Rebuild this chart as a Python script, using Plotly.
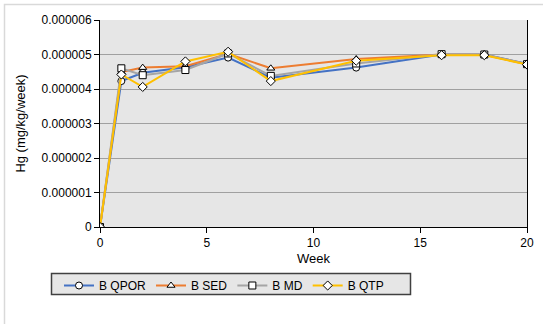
import plotly.graph_objects as go

weeks = [0, 1, 2, 4, 6, 8, 12, 16, 18, 20]
b_qpor = [0, 4.23e-6, 4.47e-6, 4.63e-6, 4.91e-6, 4.33e-6, 4.62e-6, 5.0e-6, 5.0e-6, 4.73e-6]
b_sed = [0, 4.49e-6, 4.62e-6, 4.66e-6, 5.02e-6, 4.60e-6, 4.87e-6, 5.0e-6, 4.99e-6, 4.72e-6]
b_md = [0, 4.60e-6, 4.40e-6, 4.55e-6, 5.03e-6, 4.38e-6, 4.74e-6, 5.01e-6, 5.0e-6, 4.72e-6]
b_qtp = [0, 4.42e-6, 4.06e-6, 4.80e-6, 5.08e-6, 4.23e-6, 4.82e-6, 4.98e-6, 4.98e-6, 4.71e-6]

y_ticks = [0, 1e-6, 2e-6, 3e-6, 4e-6, 5e-6, 6e-6]
y_labels = ["0", "0.000001", "0.000002", "0.000003", "0.000004", "0.000005", "0.000006"]

series = [
    ("B QPOR", b_qpor, "#4472C4", "circle"),
    ("B SED", b_sed, "#ED7D31", "triangle-up"),
    ("B MD", b_md, "#A5A5A5", "square"),
    ("B QTP", b_qtp, "#FFC000", "diamond"),
]

fig = go.Figure()
for name, vals, color, sym in series:
    fig.add_trace(go.Scatter(
        x=weeks, y=vals, name=name, mode="lines+markers",
        line=dict(color=color, width=2),
        marker=dict(symbol=sym, size=7, color="white", line=dict(color="black", width=1)),
    ))

W, H = 543, 324
ml, mr, mt, mb = 100, 16, 20, 97
pw, ph = W - ml - mr, H - mt - mb

def px_x(p):
    return (p - ml) / pw

def px_y(p):
    return (H - mb - p) / ph

fig.update_layout(
    width=W, height=H,
    margin=dict(l=ml, r=mr, t=mt, b=mb, autoexpand=False),
    paper_bgcolor="white",
    plot_bgcolor="#e6e6e6",
    font=dict(family="Liberation Sans, Arial, sans-serif", size=12, color="black"),
    showlegend=True,
    legend=dict(
        orientation="h", x=px_x(59), y=px_y(271), xanchor="left", yanchor="top",
        bgcolor="rgba(0,0,0,0)", borderwidth=0,
        font=dict(size=12), itemwidth=30,
    ),
    xaxis=dict(
        range=[0, 20], tickvals=[0, 5, 10, 15, 20], showgrid=False, zeroline=False,
        showline=True, linecolor="black", linewidth=1,
        ticks="outside", ticklen=5, tickcolor="black",
        title=dict(text="Week", standoff=4, font=dict(size=13)),
    ),
    yaxis=dict(
        range=[0, 6e-6], tickvals=y_ticks, ticktext=y_labels,
        showgrid=True, gridcolor="#a0a0a0", gridwidth=1, zeroline=False,
        showline=True, linecolor="black", linewidth=1, mirror=True,
        ticks="outside", ticklen=5, tickcolor="black",
        title=dict(text="Hg (mg/kg/week)", standoff=12, font=dict(size=13)),
    ),
    shapes=[
        dict(type="rect", xref="paper", yref="paper",
             x0=px_x(4.5), x1=px_x(600), y0=px_y(400), y1=px_y(4.5),
             line=dict(color="#d9d9d9", width=1.5), fillcolor="rgba(0,0,0,0)", layer="below"),
        dict(type="rect", xref="paper", yref="paper",
             x0=px_x(51.5), x1=px_x(410.5), y0=px_y(294.5), y1=px_y(273.5),
             line=dict(color="#404040", width=1.5), fillcolor="#e6e6e6", layer="below"),
    ],
)

fig.write_html(
    "out.html",
    config={"displayModeBar": False},
    post_script="document.body.style.margin='0px';document.body.style.overflow='hidden';",
)
